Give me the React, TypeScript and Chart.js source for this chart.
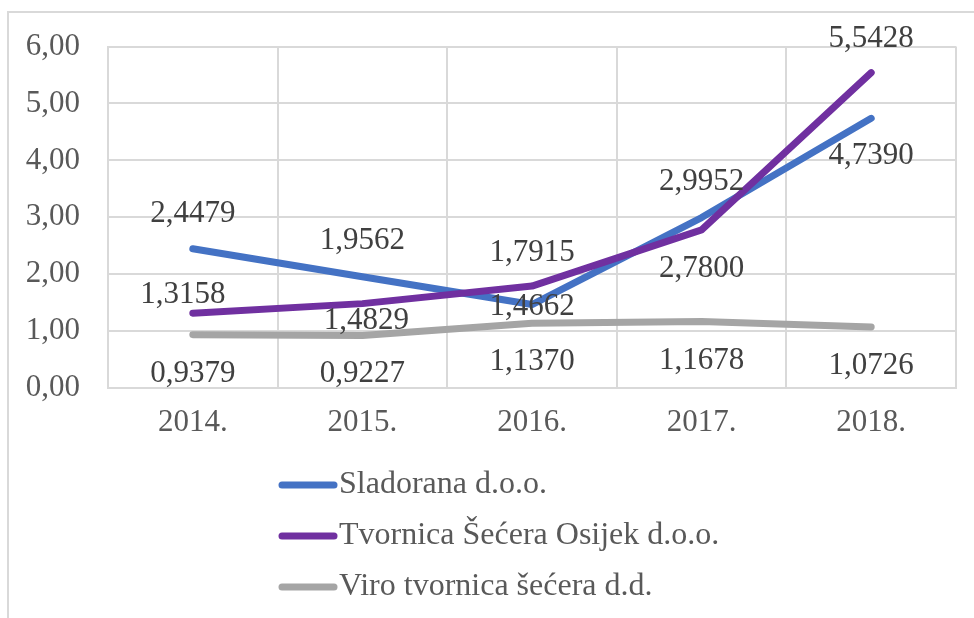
import React, { useEffect, useRef } from 'react';
import { Chart, registerables } from 'chart.js';

Chart.register(...registerables);

// ---- data ----
const categories = ['2014.', '2015.', '2016.', '2017.', '2018.'];
const seriesNames = ['Sladorana d.o.o.', 'Tvornica Šećera Osijek d.o.o.', 'Viro tvornica šećera d.d.'];
const sladorana = [2.4479, 1.9562, 1.4662, 2.9952, 4.739];
const tvornica = [1.3158, 1.4829, 1.7915, 2.78, 5.5428];
const viro = [0.9379, 0.9227, 1.137, 1.1678, 1.0726];
const yMin = 0;
const yMax = 6;
const yStep = 1;

// ---- styles ----
const COLORS = ['#4472C4', '#7030A0', '#A5A5A5'];
const FONT = "'Liberation Serif', 'Times New Roman', serif";
const GRID = '#d9d9d9';
// data label shifts (px) relative to each point: [dx, dy]
const LABEL_SHIFT = [
  [[0, -35], [0, -36], [0, 2], [0, -36], [0, 38]],
  [[-10, -18], [4, 17], [0, -33], [0, 39], [0, -34]],
  [[0, 39], [0, 38], [0, 39], [0, 39], [0, 39]],
];

const fmt = (v: number, d: number) => v.toFixed(d).replace('.', ',');

const dataLabelPlugin = {
  id: 'dataLabels',
  afterDatasetsDraw(chart: any) {
    const ctx = chart.ctx;
    ctx.save();
    ctx.font = `31px ${FONT}`;
    ctx.fillStyle = '#404040';
    ctx.textAlign = 'center';
    ctx.textBaseline = 'middle';
    chart.data.datasets.forEach((ds: any, i: number) => {
      const meta = chart.getDatasetMeta(i);
      meta.data.forEach((pt: any, j: number) => {
        const [dx, dy] = LABEL_SHIFT[i][j];
        ctx.fillText(fmt(ds.data[j], 4), pt.x + dx, pt.y + dy);
      });
    });
    ctx.restore();
  },
};

const legendPlugin = {
  id: 'stackedLegend',
  afterDraw(chart: any) {
    const ctx = chart.ctx;
    const x0 = 279;
    const lineLen = 58;
    const top = chart.chartArea.bottom + 97;
    const rowH = 51;
    ctx.save();
    ctx.font = `32px ${FONT}`;
    ctx.textAlign = 'left';
    ctx.textBaseline = 'middle';
    chart.data.datasets.forEach((ds: any, i: number) => {
      const y = top + i * rowH;
      ctx.strokeStyle = ds.borderColor;
      ctx.lineWidth = 7;
      ctx.lineCap = 'round';
      ctx.beginPath();
      ctx.moveTo(x0 + 3, y);
      ctx.lineTo(x0 + lineLen - 3, y);
      ctx.stroke();
      ctx.fillStyle = '#595959';
      ctx.fillText(ds.label, x0 + lineLen + 2, y);
    });
    ctx.restore();
  },
};

export default function App() {
  const ref = useRef<HTMLCanvasElement | null>(null);

  useEffect(() => {
    if (!ref.current) return;
    const seriesData = [sladorana, tvornica, viro];
    const chart = new Chart(ref.current, {
      type: 'line',
      data: {
        labels: categories,
        datasets: seriesData.map((d, i) => ({
          label: seriesNames[i],
          data: d,
          borderColor: COLORS[i],
          backgroundColor: COLORS[i],
          borderWidth: 7,
          borderCapStyle: 'round',
          borderJoinStyle: 'round',
          pointRadius: 0,
          pointHoverRadius: 0,
          tension: 0,
          fill: false,
          order: 3 - i,
        })),
      },
      options: {
        responsive: false,
        animation: false,
        devicePixelRatio: 1,
        layout: { padding: { left: 0, top: 43, right: 18, bottom: 0 } },
        plugins: {
          legend: { display: false },
          tooltip: { enabled: false },
        },
        scales: {
          x: {
            offset: true,
            grid: { offset: true, color: GRID, lineWidth: 2, drawTicks: false },
            border: { color: GRID, width: 2 },
            ticks: { color: '#595959', font: { family: FONT, size: 31 }, padding: 16 },
            afterFit: (s: any) => { s.height = 230; },
          },
          y: {
            min: yMin,
            max: yMax,
            grid: { color: GRID, lineWidth: 2, drawTicks: false },
            border: { color: GRID, width: 2 },
            ticks: {
              stepSize: yStep,
              color: '#595959',
              font: { family: FONT, size: 31 },
              padding: 28,
              callback: (v: any) => fmt(Number(v), 2),
            },
            afterFit: (s: any) => { s.width = 108; },
          },
        },
      },
      plugins: [dataLabelPlugin, legendPlugin],
    } as any);
    return () => chart.destroy();
  }, []);

  return (
    <div style={{ position: 'fixed', left: 0, top: 0, width: 974, height: 618, background: '#fff', overflow: 'hidden' }}>
      <div style={{ position: 'absolute', left: 7, top: 11, width: 1000, height: 700, borderTop: `2px solid ${GRID}`, borderLeft: `2px solid ${GRID}` }} />
      <canvas ref={ref} width={974} height={618} style={{ position: 'absolute', left: 0, top: 0 }} />
    </div>
  );
}
